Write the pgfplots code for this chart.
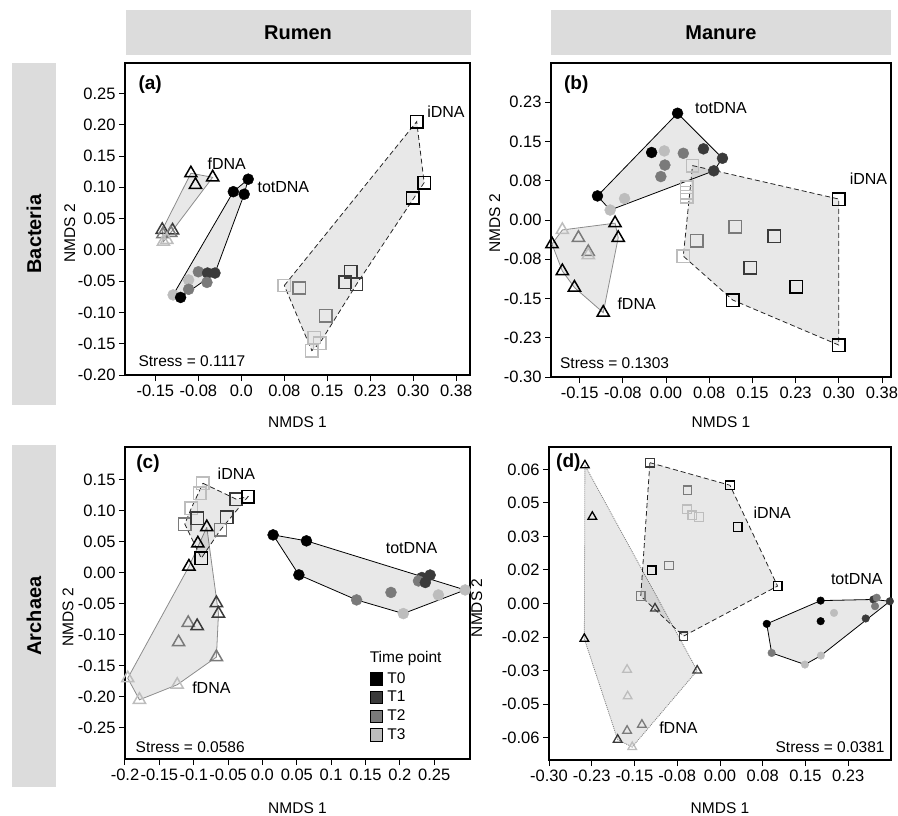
\documentclass[border=0pt]{standalone}
\usepackage{fontspec}
\setmainfont{Liberation Sans}
\usepackage{pgfplots}
\pgfplotsset{compat=1.18}
\usepackage{pgfplotstable}

\definecolor{cT0}{HTML}{000000}
\definecolor{cT1}{HTML}{3A3A3A}
\definecolor{cT2}{HTML}{7A7A7A}
\definecolor{cT3}{HTML}{BDBDBD}
\definecolor{stripc}{HTML}{DCDCDC}

\newcommand{\fs}{\fontsize{15.5}{18}\selectfont}
\newcommand{\ft}{\fontsize{16.5}{19}\selectfont}

\pgfplotsset{
  panel/.style={scale only axis, clip=false, tick align=outside, major tick length=6pt,
    xtick pos=left, ytick pos=left, axis line style={line width=1.3pt},
    tick style={black, line width=1pt}, scaled ticks=false,
    ticklabel style={font=\ft}, label style={font=\fs},
    xlabel={NMDS 1}, ylabel={NMDS 2}},
  hull/.style={fill=black, fill opacity=0.09, line width=0.8pt, mark=none},
  tothull/.style={hull, draw=black},
  ihull/.style={hull, draw=black!85, dash pattern=on 5pt off 3pt},
  fhull/.style={hull, draw=black!45},
  bigmarks/.style={only marks, scatter, scatter src=explicit symbolic, scatter/classes={
    c0={mark=*, draw=cT0, fill=cT0, mark size=5.5pt},
    c1={mark=*, draw=cT1, fill=cT1, mark size=5.5pt},
    c2={mark=*, draw=cT2, fill=cT2, mark size=5.5pt},
    c3={mark=*, draw=cT3, fill=cT3, mark size=5.5pt},
    t0={mark=triangle, draw=cT0, mark size=7pt, line width=1.5pt},
    t1={mark=triangle, draw=cT1, mark size=7pt, line width=1.5pt},
    t2={mark=triangle, draw=cT2, mark size=7pt, line width=1.5pt},
    t3={mark=triangle, draw=cT3, mark size=7pt, line width=1.5pt},
    s0={mark=square, draw=cT0, mark size=6.2pt, line width=1.5pt},
    s1={mark=square, draw=cT1, mark size=6.2pt, line width=1.5pt},
    s2={mark=square, draw=cT2, mark size=6.2pt, line width=1.5pt},
    s3={mark=square, draw=cT3, mark size=6.2pt, line width=1.5pt}}},
  smallmarks/.style={only marks, scatter, scatter src=explicit symbolic, scatter/classes={
    c0={mark=*, draw=cT0, fill=cT0, mark size=3.8pt},
    c1={mark=*, draw=cT1, fill=cT1, mark size=3.8pt},
    c2={mark=*, draw=cT2, fill=cT2, mark size=3.8pt},
    c3={mark=*, draw=cT3, fill=cT3, mark size=3.8pt},
    t0={mark=triangle, draw=cT0, mark size=5pt, line width=1.3pt},
    t1={mark=triangle, draw=cT1, mark size=5pt, line width=1.3pt},
    t2={mark=triangle, draw=cT2, mark size=5pt, line width=1.3pt},
    t3={mark=triangle, draw=cT3, mark size=5pt, line width=1.3pt},
    s0={mark=square, draw=cT0, mark size=4.3pt, line width=1.3pt},
    s1={mark=square, draw=cT1, mark size=4.3pt, line width=1.3pt},
    s2={mark=square, draw=cT2, mark size=4.3pt, line width=1.3pt},
    s3={mark=square, draw=cT3, mark size=4.3pt, line width=1.3pt}}},
}

\pgfplotstableread{
x y g
-0.088 0.1225 t0
-0.050 0.116 t0
-0.080 0.104 t0
-0.138 0.032 t1
-0.120 0.031 t1
-0.137 0.025 t2
-0.123 0.027 t2
-0.136 0.013 t3
-0.130 0.016 t3
0.012 0.113 c0
-0.014 0.093 c0
0.005 0.089 c0
-0.075 -0.035 c2
-0.059 -0.037 c1
-0.046 -0.037 c1
-0.060 -0.052 c2
-0.092 -0.048 c3
-0.092 -0.063 c2
-0.119 -0.072 c3
-0.106 -0.076 c0
0.306 0.205 s0
0.319 0.1075 s0
0.299 0.083 s0
0.191 -0.035 s1
0.181 -0.052 s1
0.201 -0.055 s1
0.075 -0.057 s3
0.101 -0.061 s2
0.147 -0.105 s2
0.127 -0.140 s3
0.137 -0.149 s3
0.123 -0.161 s3
}\tabA

\pgfplotstableread{
x y g
0.020 0.204 c0
-0.025 0.129 c0
-0.003 0.132 c3
0.030 0.1275 c2
0.065 0.136 c1
0.098 0.118 c1
-0.002 0.105 c2
-0.009 0.083 c2
0.083 0.094 c1
-0.119 0.046 c0
-0.072 0.041 c3
-0.097 0.019 c3
-0.180 -0.019 t3
-0.0885 -0.006 t0
-0.198 -0.046 t0
-0.152 -0.034 t2
-0.083 -0.034 t0
-0.135 -0.061 t2
-0.135 -0.067 t3
-0.180 -0.0975 t0
-0.159 -0.129 t0
-0.109 -0.177 t0
0.046 0.104 s3
0.036 0.0625 s3
0.036 0.052 s3
0.036 0.0445 s3
0.030 -0.069 s3
0.053 -0.040 s2
0.120 -0.013 s2
0.188 -0.031 s1
0.146 -0.091 s1
0.226 -0.1275 s0
0.116 -0.153 s0
0.300 0.040 s0
0.300 -0.239 s0
}\tabB

\pgfplotstableread{
x y g
0.0155 0.0606 c0
0.064 0.051 c0
0.053 -0.0037 c0
0.244 -0.004 c1
0.232 -0.008 c1
0.227 -0.0135 c2
0.237 -0.016 c1
0.137 -0.044 c2
0.187 -0.032 c2
0.205 -0.066 c3
0.256 -0.036 c3
0.295 -0.028 c3
-0.081 0.073 t0
-0.094 0.047 t0
-0.107 0.0097 t0
-0.067 -0.049 t1
-0.064 -0.066 t1
-0.108 -0.081 t2
-0.095 -0.086 t1
-0.122 -0.112 t2
-0.067 -0.136 t2
-0.196 -0.170 t3
-0.124 -0.1805 t3
-0.179 -0.2047 t3
-0.0866 0.1437 s3
-0.0914 0.1277 s3
-0.1035 0.1035 s3
-0.113 0.078 s2
-0.095 0.0874 s1
-0.038 0.118 s1
-0.021 0.122 s0
-0.052 0.089 s1
-0.061 0.0687 s2
-0.089 0.023 s0
}\tabC

\pgfplotstableread{
x y g
-0.237 0.0618 t0
-0.224 0.0388 t0
-0.238 -0.0158 t0
-0.114 -0.0022 t1
-0.040 -0.030 t1
-0.163 -0.0296 t3
-0.162 -0.0415 t3
-0.163 -0.0569 t2
-0.137 -0.0542 t2
-0.1795 -0.0609 t1
-0.154 -0.0642 t3
-0.123 0.063 s1
0.0175 0.0529 s0
-0.057 0.0506 s2
-0.058 0.0421 s3
-0.0485 0.0394 s3
-0.037 0.0387 s3
0.031 0.0342 s0
-0.120 0.0148 s0
-0.0895 0.017 s2
0.101 0.0078 s0
-0.139 0.0033 s2
-0.064 -0.0146 s1
0.1766 0.0013 c0
0.082 -0.0091 c0
0.1766 -0.0079 c0
0.200 -0.0042 c3
0.269 0.0018 c1
0.275 0.0026 c2
0.272 -0.0012 c2
0.298 0.001 c1
0.2556 -0.0067 c1
0.0906 -0.0221 c2
0.149 -0.0273 c3
0.177 -0.0233 c3
}\tabD

\begin{document}
\begin{tikzpicture}[x=1pt,y=1pt]
\path[use as bounding box] (0,0) rectangle (898,-815);
% strips
\fill[stripc] (126,-10) rectangle (471,-55);
\fill[stripc] (551,-10) rectangle (891,-55);
\fill[stripc] (12,-63) rectangle (56,-405);
\fill[stripc] (12,-445) rectangle (56,-787);
\node[font=\bfseries\fontsize{20}{24}\selectfont] at (298,-33) {Rumen};
\node[font=\bfseries\fontsize{20}{24}\selectfont] at (721,-33) {Manure};
\node[font=\bfseries\fontsize{20}{24}\selectfont, rotate=90] at (34,-234) {Bacteria};
\node[font=\bfseries\fontsize{20}{24}\selectfont, rotate=90] at (34,-616) {Archaea};

% ---------------- (a)
\begin{axis}[panel, at={(125pt,-375pt)}, anchor=south west, width=345pt, height=312pt,
  xmin=-0.203, xmax=0.399, ymin=-0.20, ymax=0.2987,
  xtick={-0.15,-0.075,0,0.075,0.15,0.225,0.30,0.375},
  xticklabels={-0.15,-0.08,0.0,0.08,0.15,0.23,0.30,0.38},
  ytick={-0.20,-0.15,-0.10,-0.05,0,0.05,0.10,0.15,0.20,0.25},
  yticklabels={-0.20,-0.15,-0.10,-0.05,0.00,0.05,0.10,0.15,0.20,0.25},
  xlabel style={at={(axis description cs:0.5,-0.15)}, anchor=center},
  ylabel style={at={(axis description cs:-0.16,0.455)}, anchor=center}]
\addplot[fhull] coordinates {(-0.088,0.1225)(-0.050,0.116)(-0.120,0.031)(-0.136,0.013)(-0.138,0.032)(-0.088,0.1225)};
\addplot[tothull] coordinates {(-0.014,0.093)(0.012,0.113)(0.005,0.089)(-0.046,-0.037)(-0.106,-0.076)(-0.119,-0.072)(-0.014,0.093)};
\addplot[ihull] coordinates {(0.075,-0.057)(0.306,0.205)(0.319,0.1075)(0.201,-0.055)(0.137,-0.149)(0.123,-0.161)(0.075,-0.057)};
\addplot[bigmarks] table[x=x,y=y,meta=g] {\tabA};
\node[font=\bfseries\fontsize{19}{22}\selectfont, anchor=west] at (axis cs:-0.1855,0.2636) {(a)};
\node[font=\fontsize{16}{19}\selectfont] at (axis cs:-0.0255,0.1385) {fDNA};
\node[font=\fontsize{16}{19}\selectfont] at (axis cs:0.0733,0.100) {totDNA};
\node[font=\fontsize{16}{19}\selectfont] at (axis cs:0.357,0.2204) {iDNA};
\node[font=\fs, anchor=west] at (axis cs:-0.1855,-0.1784) {Stress = 0.1117};
\end{axis}

% ---------------- (b)
\begin{axis}[panel, at={(551pt,-377pt)}, anchor=south west, width=340pt, height=314pt,
  xmin=-0.1997, xmax=0.3906, ymin=-0.30, ymax=0.30,
  xtick={-0.15,-0.075,0,0.075,0.15,0.225,0.30,0.375},
  xticklabels={-0.15,-0.08,0.00,0.08,0.15,0.23,0.30,0.38},
  ytick={-0.30,-0.225,-0.15,-0.075,0,0.075,0.15,0.225},
  yticklabels={-0.30,-0.23,-0.15,-0.08,0.00,0.08,0.15,0.23},
  xlabel style={at={(axis description cs:0.5,-0.145)}, anchor=center},
  ylabel style={at={(axis description cs:-0.165,0.49)}, anchor=center}]
\addplot[tothull] coordinates {(-0.119,0.046)(0.020,0.204)(0.098,0.118)(0.083,0.094)(-0.097,0.019)(-0.119,0.046)};
\addplot[fhull] coordinates {(-0.198,-0.046)(-0.180,-0.019)(-0.0885,-0.006)(-0.083,-0.034)(-0.109,-0.177)(-0.159,-0.129)(-0.180,-0.0975)(-0.198,-0.046)};
\addplot[ihull] coordinates {(0.046,0.104)(0.300,0.040)(0.300,-0.239)(0.116,-0.153)(0.030,-0.069)(0.046,0.104)};
\addplot[bigmarks] table[x=x,y=y,meta=g] {\tabB};
\node[font=\bfseries\fontsize{19}{22}\selectfont, anchor=west] at (axis cs:-0.183,0.258) {(b)};
\node[font=\fontsize{16}{19}\selectfont, anchor=west] at (axis cs:0.0446,0.2136) {totDNA};
\node[font=\fontsize{16}{19}\selectfont, anchor=west] at (axis cs:0.313,0.0797) {iDNA};
\node[font=\fontsize{16}{19}\selectfont, anchor=west] at (axis cs:-0.0903,-0.159) {fDNA};
\node[font=\fs, anchor=west] at (axis cs:-0.19,-0.274) {Stress = 0.1303};
\end{axis}

% ---------------- (c)
\begin{axis}[panel, at={(125pt,-759pt)}, anchor=south west, width=345pt, height=312pt,
  xmin=-0.20, xmax=0.302, ymin=-0.30, ymax=0.202,
  xtick={-0.2,-0.15,-0.1,-0.05,0,0.05,0.1,0.15,0.2,0.25},
  xticklabels={-0.2,-0.15,-0.1,-0.05,0.0,0.05,0.1,0.15,0.2,0.25},
  ytick={-0.25,-0.20,-0.15,-0.10,-0.05,0,0.05,0.10,0.15},
  yticklabels={-0.25,-0.20,-0.15,-0.10,-0.05,0.00,0.05,0.10,0.15},
  xlabel style={at={(axis description cs:0.5,-0.157)}, anchor=center},
  ylabel style={at={(axis description cs:-0.165,0.455)}, anchor=center},
  legend entries={T0,T1,T2,T3},
  legend cell align=left,
  legend style={at={(axis cs:0.156,-0.158)}, anchor=north west, draw=none, fill=none,
    font=\fs, inner sep=0pt, row sep=3.5pt, nodes={inner sep=1.5pt},
    /tikz/every odd column/.append style={column sep=3pt}},
  legend image code/.code={\fill[#1] (0pt,-6.3pt) rectangle (12.6pt,6.3pt);}]
\addlegendimage{fill=cT0}
\addlegendimage{fill=cT1}
\addlegendimage{fill=cT2}
\addlegendimage{fill=cT3}
\addplot[tothull] coordinates {(0.0155,0.0606)(0.064,0.051)(0.295,-0.028)(0.205,-0.066)(0.137,-0.044)(0.053,-0.0037)(0.0155,0.0606)};
\addplot[fhull] coordinates {(-0.081,0.073)(-0.064,-0.066)(-0.067,-0.136)(-0.124,-0.1805)(-0.179,-0.2047)(-0.196,-0.170)(-0.107,0.0097)(-0.081,0.073)};
\addplot[ihull] coordinates {(-0.0866,0.1437)(-0.038,0.118)(-0.021,0.122)(-0.061,0.0687)(-0.089,0.023)(-0.113,0.078)(-0.1035,0.1035)(-0.0866,0.1437)};
\addplot[bigmarks] table[x=x,y=y,meta=g] {\tabC};
\node[font=\bfseries\fontsize{19}{22}\selectfont, anchor=west] at (axis cs:-0.1886,0.176) {(c)};
\node[font=\fontsize{16}{19}\selectfont] at (axis cs:-0.0379,0.1598) {iDNA};
\node[font=\fontsize{16}{19}\selectfont] at (axis cs:0.217,0.039) {totDNA};
\node[font=\fontsize{16}{19}\selectfont] at (axis cs:-0.0743,-0.185) {fDNA};
\node[font=\fs, anchor=west] at (axis cs:-0.1896,-0.2807) {Stress = 0.0586};
\node[font=\fs, anchor=west] at (axis cs:0.151,-0.139) {Time point};
\end{axis}

% ---------------- (d)
\begin{axis}[panel, at={(549pt,-760pt)}, anchor=south west, width=342pt, height=313pt,
  xmin=-0.30, xmax=0.30, ymin=-0.07, ymax=0.07,
  xtick={-0.30,-0.225,-0.15,-0.075,0,0.075,0.15,0.225},
  xticklabels={-0.30,-0.23,-0.15,-0.08,0.00,0.08,0.15,0.23},
  ytick={-0.06,-0.045,-0.03,-0.015,0,0.015,0.03,0.045,0.06},
  yticklabels={-0.06,-0.05,-0.03,-0.02,0.00,0.02,0.03,0.05,0.06},
  xlabel style={at={(axis description cs:0.5,-0.153)}, anchor=center},
  ylabel style={at={(axis description cs:-0.211,0.486)}, anchor=center}]
\addplot[fhull, draw=black!50, dash pattern=on 1pt off 1pt] coordinates {(-0.237,0.0618)(-0.040,-0.030)(-0.154,-0.0642)(-0.1795,-0.0609)(-0.238,-0.0158)(-0.237,0.0618)};
\addplot[ihull] coordinates {(-0.123,0.063)(0.0175,0.0529)(0.101,0.0078)(-0.064,-0.0146)(-0.139,0.0033)(-0.123,0.063)};
\addplot[tothull] coordinates {(0.082,-0.0091)(0.1766,0.0013)(0.269,0.0018)(0.298,0.001)(0.177,-0.0233)(0.149,-0.0273)(0.0906,-0.0221)(0.082,-0.0091)};
\addplot[smallmarks] table[x=x,y=y,meta=g] {\tabD};
\node[font=\bfseries\fontsize{19}{22}\selectfont, anchor=west] at (axis cs:-0.2935,0.063) {(d)};
\node[font=\fontsize{16}{19}\selectfont, anchor=west] at (axis cs:0.0526,0.0406) {iDNA};
\node[font=\fontsize{16}{19}\selectfont] at (axis cs:0.24,0.01075) {totDNA};
\node[font=\fontsize{16}{19}\selectfont] at (axis cs:-0.073,-0.0557) {fDNA};
\node[font=\fs, anchor=east] at (axis cs:0.295,-0.0641) {Stress = 0.0381};
\end{axis}
\end{tikzpicture}
\end{document}
